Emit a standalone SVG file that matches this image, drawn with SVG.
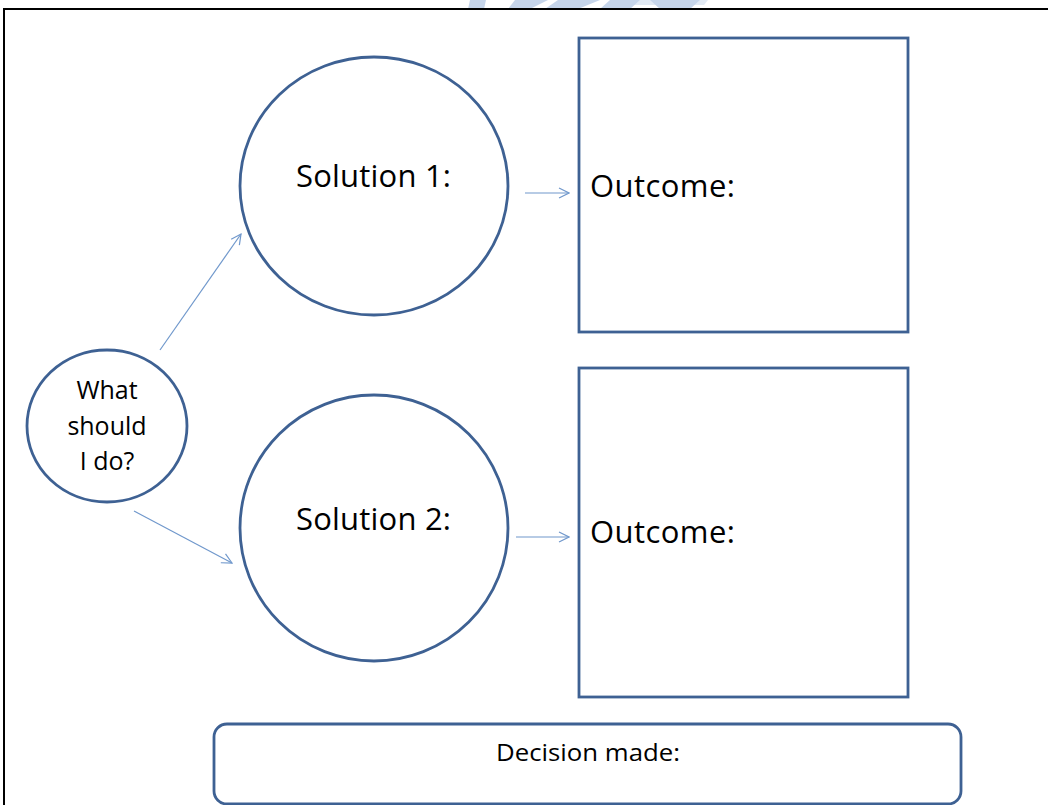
<svg xmlns="http://www.w3.org/2000/svg" width="1048" height="805" viewBox="0 0 1048 805">
  <style>
    .shape { fill: #ffffff; stroke: #3e6193; stroke-width: 2.8; }
    .conn { stroke: #7098cc; stroke-width: 1.2; fill: none; marker-end: url(#open); }
    .label { font-family: "Open Sans", "Noto Sans", "DejaVu Sans", sans-serif; fill: #000000; }
    .big { font-size: 31px; }
    .mid { font-size: 25px; text-anchor: middle; }
    .small { font-size: 23px; text-anchor: middle; }
  </style>
  <defs>
    <marker id="open" viewBox="0 0 12 12" refX="11" refY="6" markerWidth="12" markerHeight="12" markerUnits="userSpaceOnUse" orient="auto">
      <path d="M1,1 L11,6 L1,11" fill="none" stroke="#7098cc" stroke-width="1.2"/>
    </marker>
  </defs>

  <rect x="0" y="0" width="1048" height="805" fill="#ffffff"/>

  <!-- faint emblem fragment along the top edge -->
  <g fill="#b9cbe6" opacity="0.8">
    <path d="M470,0 L486,0 L484,9 L468,9 Z"/>
    <path d="M515,0 L548,0 L530,9 L508,9 Z"/>
    <path d="M558,0 L600,0 L578,9 L545,9 Z"/>
    <path d="M610,0 L640,0 L630,9 L600,9 Z"/>
    <path d="M650,0 L700,0 L690,9 L660,9 Z"/>
    <path d="M612,0 L708,0 L704,5 L615,5 Z" opacity="0.5"/>
  </g>

  <!-- page frame -->
  <path d="M4,805 L4,9 L1048,9" fill="none" stroke="#000000" stroke-width="2"/>

  <!-- connectors -->
  <g id="connectors">
    <line class="conn" x1="160" y1="350" x2="241" y2="234"/>
    <line class="conn" x1="134" y1="511" x2="232" y2="563"/>
    <line class="conn" x1="525" y1="193" x2="569" y2="193"/>
    <line class="conn" x1="516" y1="537" x2="569" y2="537"/>
  </g>

  <g id="question">
    <ellipse class="shape" cx="107" cy="426" rx="80" ry="76"/>
    <text class="label mid" x="107" y="399">What</text>
    <text class="label mid" x="107" y="435">should</text>
    <text class="label mid" x="107" y="470">I do?</text>
  </g>

  <g id="solution1">
    <ellipse class="shape" cx="374" cy="186" rx="134" ry="129"/>
    <text class="label big" x="296" y="187" textLength="155">Solution 1:</text>
  </g>

  <g id="solution2">
    <ellipse class="shape" cx="374" cy="528" rx="134" ry="133"/>
    <text class="label big" x="296" y="530" textLength="155">Solution 2:</text>
  </g>

  <g id="outcome1">
    <rect class="shape" x="579" y="38" width="329" height="294"/>
    <text class="label big" x="590" y="197" textLength="145">Outcome:</text>
  </g>

  <g id="outcome2">
    <rect class="shape" x="579" y="368" width="329" height="329"/>
    <text class="label big" x="590" y="543" textLength="145">Outcome:</text>
  </g>

  <g id="decision">
    <rect class="shape" x="214" y="724" width="747" height="80" rx="13" ry="13"/>
    <text class="label small" x="588" y="761" textLength="184" lengthAdjust="spacingAndGlyphs">Decision made:</text>
  </g>
</svg>
